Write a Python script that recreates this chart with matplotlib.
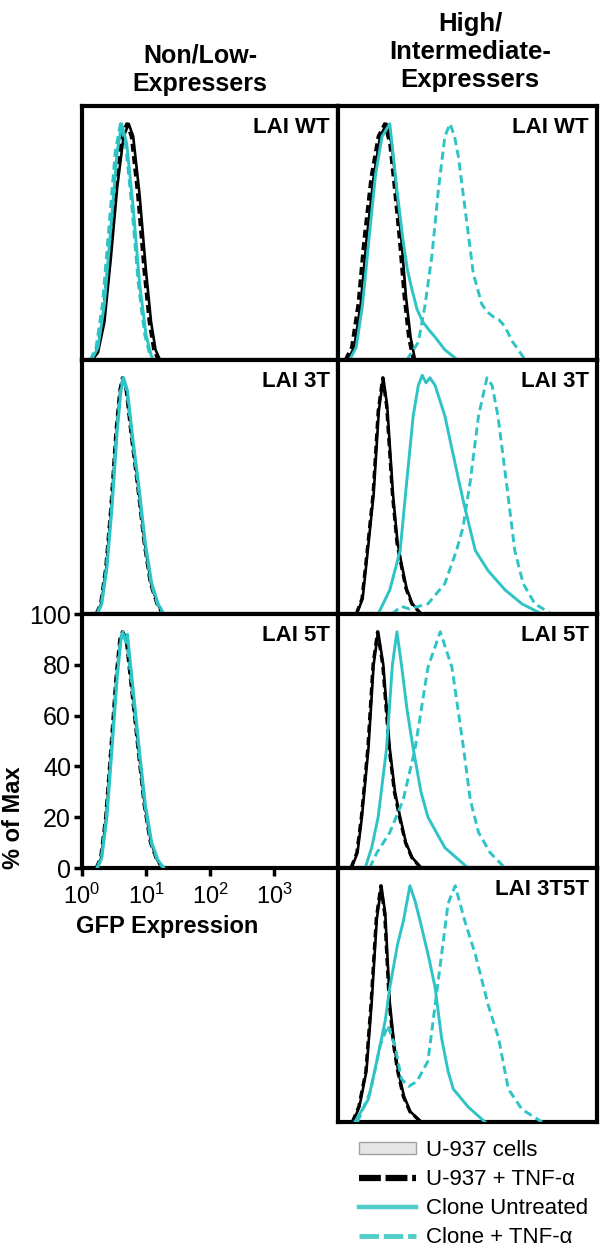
import numpy as np
import matplotlib
matplotlib.use('Agg')
import matplotlib.pyplot as plt
from matplotlib.lines import Line2D
from matplotlib.patches import Patch

plt.rcParams['font.family'] = ['Liberation Sans', 'DejaVu Sans']
plt.rcParams['mathtext.fontset'] = 'custom'
plt.rcParams['mathtext.rm'] = 'Liberation Sans'
plt.rcParams['mathtext.it'] = 'Liberation Sans'

CYAN = '#2ec4c6'

# ---- data: GFP intensity (x) and % of max (y) ----
# Non/Low expressers, LAI WT
low_wt_u937_x = [1.45, 1.78, 2.24, 2.82, 3.55, 4.47, 5.37, 6.31, 7.94, 10.0, 12.0, 14.1, 16.6]
low_wt_u937_y = [0, 3, 15, 40, 68, 88, 93, 88, 65, 35, 15, 4, 0]
low_wt_u937tnf_x = [1.35, 1.66, 2.09, 2.63, 3.31, 4.17, 5.01, 5.89, 7.41, 9.33, 11.2, 13.2, 15.5]
low_wt_u937tnf_y = [0, 3, 15, 40, 68, 88, 93, 88, 65, 35, 15, 4, 0]
low_wt_clone_x = [1.41, 1.78, 2.24, 2.82, 3.55, 4.17, 5.01, 6.31, 7.94, 10.0, 12.0, 13.2]
low_wt_clone_y = [0, 5, 22, 52, 82, 93, 85, 60, 30, 10, 2, 0]
low_wt_clonetnf_x = [1.35, 1.66, 2.09, 2.63, 3.31, 3.98, 4.79, 6.03, 7.59, 9.55, 11.5, 12.6]
low_wt_clonetnf_y = [0, 5, 22, 52, 82, 93, 85, 60, 30, 10, 2, 0]

# Non/Low expressers, LAI 3T
low_3t_u937_x = [1.70, 2.0, 2.40, 2.88, 3.47, 3.98, 4.37, 5.01, 6.03, 7.59, 9.55, 12.0, 15.1, 18.6]
low_3t_u937_y = [0, 4, 18, 42, 72, 88, 93, 88, 70, 50, 28, 12, 4, 0]
low_3t_u937tnf_x = [1.66, 1.95, 2.34, 2.82, 3.39, 3.89, 4.27, 4.90, 5.89, 7.41, 9.33, 11.7, 14.8, 18.2]
low_3t_u937tnf_y = [0, 4, 18, 42, 72, 88, 93, 88, 70, 50, 28, 12, 4, 0]
low_3t_clone_x = [1.74, 2.04, 2.45, 2.95, 3.55, 4.07, 4.47, 5.13, 6.17, 7.76, 9.77, 12.3, 15.5, 19.1]
low_3t_clone_y = [0, 4, 18, 42, 72, 88, 93, 88, 70, 50, 28, 12, 4, 0]
low_3t_clonetnf_x = [1.70, 2.0, 2.40, 2.88, 3.47, 3.98, 4.37, 5.01, 6.03, 7.59, 9.55, 12.0, 15.1, 18.6]
low_3t_clonetnf_y = [0, 4, 18, 42, 72, 88, 93, 88, 70, 50, 28, 12, 4, 0]

# Non/Low expressers, LAI 5T
low_5t_u937_x = [1.70, 2.0, 2.40, 2.88, 3.47, 3.98, 4.37, 5.01, 5.62, 6.61, 7.59, 9.55, 12.0, 15.1, 18.6]
low_5t_u937_y = [0, 4, 20, 47, 75, 90, 93, 90, 78, 62, 48, 25, 10, 3, 0]
low_5t_u937tnf_x = [1.66, 1.95, 2.34, 2.82, 3.39, 3.89, 4.27, 4.90, 5.50, 6.46, 7.41, 9.33, 11.7, 14.8, 18.2]
low_5t_u937tnf_y = [0, 4, 20, 47, 75, 90, 93, 90, 78, 62, 48, 25, 10, 3, 0]
low_5t_clone_x = [1.74, 2.04, 2.45, 2.95, 3.55, 4.07, 4.47, 4.79, 5.13, 5.75, 6.76, 7.76, 9.77, 12.3, 15.5, 19.1]
low_5t_clone_y = [0, 4, 20, 47, 75, 90, 92, 89, 92, 80, 63, 48, 25, 10, 3, 0]
low_5t_clonetnf_x = [1.70, 2.0, 2.40, 2.88, 3.47, 3.98, 4.37, 5.01, 5.62, 6.61, 7.59, 9.55, 12.0, 15.1, 18.6]
low_5t_clonetnf_y = [0, 4, 20, 47, 75, 90, 93, 90, 78, 62, 48, 25, 10, 3, 0]

# High/Intermediate expressers, LAI WT
high_wt_u937_x = [1.41, 1.78, 2.24, 2.75, 3.55, 4.47, 5.62, 6.76, 7.94, 9.55, 11.2, 13.2, 15.5]
high_wt_u937_y = [0, 5, 22, 47, 72, 88, 93, 85, 68, 47, 25, 9, 0]
high_wt_u937tnf_x = [1.29, 1.62, 2.04, 2.51, 3.24, 4.17, 5.25, 6.31, 7.41, 8.91, 10.5, 12.3, 14.5]
high_wt_u937tnf_y = [0, 5, 22, 47, 72, 88, 93, 85, 68, 47, 25, 9, 0]
high_wt_clone_x = [1.51, 1.91, 2.40, 3.02, 3.80, 4.79, 6.31, 8.13, 10.0, 11.7, 13.8, 16.6, 20.4, 25.1, 31.6, 44.7, 70.8]
high_wt_clone_y = [0, 5, 22, 48, 73, 88, 93, 67, 48, 36, 28, 20, 15, 12, 9, 4, 0]
high_wt_clonetnf_x = [11.5, 17.4, 21.9, 28.2, 35.5, 44.7, 53.7, 63.1, 72.4, 97.7, 123, 166, 200,
                      251, 302, 355, 417, 501, 575, 776]
high_wt_clonetnf_y = [0, 7, 21, 41, 67, 88, 93, 88, 80, 54, 34, 22, 19, 17, 16, 14, 11, 7, 5, 0]

# High/Intermediate expressers, LAI 3T
high_3t_u937_x = [1.95, 2.40, 2.75, 3.55, 4.27, 5.01, 5.75, 7.08, 8.32, 9.55, 11.5, 14.1, 19.5]
high_3t_u937_y = [0, 6, 20, 47, 80, 93, 82, 47, 28, 20, 10, 4, 0]
high_3t_u937tnf_x = [1.91, 2.34, 2.69, 3.47, 4.17, 4.90, 5.62, 6.92, 8.13, 9.33, 11.2, 13.8, 19.1]
high_3t_u937tnf_y = [0, 6, 20, 47, 80, 93, 82, 47, 28, 20, 10, 4, 0]
high_3t_clone_x = [4.17, 6.31, 9.12, 11.5, 14.5, 17.4, 20.0, 22.9, 26.3, 31.6, 44.7, 57.5, 85.1,
                   132, 209, 380, 692, 1413]
high_3t_clone_y = [0, 9.5, 25, 52, 78, 90, 94, 91, 93, 90, 78, 65, 45, 25, 17, 9.5, 4, 0]
high_3t_clonetnf_x = [6.76, 9.55, 12.6, 24.5, 44.7, 67.6, 85.1, 110, 148, 200, 240, 295, 398, 537,
                      724, 1096, 1995]
high_3t_clonetnf_y = [0, 3, 2, 4, 12, 25, 34, 52, 78, 93, 90, 78, 52, 25, 12, 4, 0]

# High/Intermediate expressers, LAI 5T
high_5t_u937_x = [1.62, 2.0, 2.34, 2.95, 3.55, 4.17, 5.01, 6.31, 7.59, 9.12, 11.2, 14.1, 19.5]
high_5t_u937_y = [0, 6, 20, 47, 80, 93, 80, 47, 30, 20, 10, 4, 0]
high_5t_u937tnf_x = [1.58, 1.95, 2.29, 2.88, 3.47, 4.07, 4.90, 6.17, 7.41, 8.91, 11.0, 13.8, 19.1]
high_5t_u937tnf_y = [0, 6, 20, 47, 80, 93, 80, 47, 30, 20, 10, 4, 0]
high_5t_clone_x = [2.63, 3.31, 4.17, 5.62, 6.92, 8.13, 9.55, 11.7, 14.5, 19.1, 24.5, 44.7, 102]
high_5t_clone_y = [0, 8, 20, 47, 80, 93, 80, 62, 47, 30, 20, 8, 0]
high_5t_clonetnf_x = [3.09, 3.98, 6.31, 10.2, 15.5, 24.5, 38.0, 57.5, 87.1, 110, 148, 224, 380]
high_5t_clonetnf_y = [0, 6, 14, 27, 47, 79, 93, 79, 47, 27, 14, 6, 0]

# High/Intermediate expressers, LAI 3T5T
high_3t5t_u937_x = [1.70, 2.14, 2.75, 3.31, 3.98, 4.68, 5.37, 6.31, 7.41, 8.51, 10.5, 13.2, 19.5]
high_3t5t_u937_y = [0, 6, 20, 47, 80, 93, 82, 47, 30, 20, 10, 4, 0]
high_3t5t_u937tnf_x = [1.66, 2.09, 2.69, 3.24, 3.89, 4.57, 5.25, 6.17, 7.24, 8.32, 10.2, 12.9, 19.1]
high_3t5t_u937tnf_y = [0, 6, 20, 47, 80, 93, 82, 47, 30, 20, 10, 4, 0]
high_3t5t_clone_x = [1.82, 2.95, 3.98, 5.37, 6.31, 8.32, 10.2, 12.9, 15.5, 18.6, 25.1, 31.6, 39.8,
                     50.1, 60.3, 102, 186]
high_3t5t_clone_y = [0, 9, 24, 40, 53, 70, 79, 93, 87, 79, 65, 53, 33, 20, 13, 6, 0]
high_3t5t_clonetnf_x = [2.0, 3.16, 4.47, 5.89, 7.59, 9.55, 12.3, 16.6, 24.5, 31.6, 39.8, 50.1, 64.6,
                        91.2, 132, 209, 302, 427, 692, 1413]
high_3t5t_clonetnf_y = [0, 12, 30, 38, 30, 17, 14, 16, 24, 46, 66, 86, 93, 79, 66, 46, 33, 13, 5, 0]

panels = [
    # (pixel box left, top, right, bottom), label, curves
    ((82, 106, 338, 360), 'LAI WT', (low_wt_u937_x, low_wt_u937_y, low_wt_u937tnf_x, low_wt_u937tnf_y,
                                     low_wt_clone_x, low_wt_clone_y, low_wt_clonetnf_x, low_wt_clonetnf_y)),
    ((82, 360, 338, 614), 'LAI 3T', (low_3t_u937_x, low_3t_u937_y, low_3t_u937tnf_x, low_3t_u937tnf_y,
                                     low_3t_clone_x, low_3t_clone_y, low_3t_clonetnf_x, low_3t_clonetnf_y)),
    ((82, 614, 338, 868), 'LAI 5T', (low_5t_u937_x, low_5t_u937_y, low_5t_u937tnf_x, low_5t_u937tnf_y,
                                     low_5t_clone_x, low_5t_clone_y, low_5t_clonetnf_x, low_5t_clonetnf_y)),
    ((338, 106, 597, 360), 'LAI WT', (high_wt_u937_x, high_wt_u937_y, high_wt_u937tnf_x, high_wt_u937tnf_y,
                                      high_wt_clone_x, high_wt_clone_y, high_wt_clonetnf_x, high_wt_clonetnf_y)),
    ((338, 360, 597, 614), 'LAI 3T', (high_3t_u937_x, high_3t_u937_y, high_3t_u937tnf_x, high_3t_u937tnf_y,
                                      high_3t_clone_x, high_3t_clone_y, high_3t_clonetnf_x, high_3t_clonetnf_y)),
    ((338, 614, 597, 868), 'LAI 5T', (high_5t_u937_x, high_5t_u937_y, high_5t_u937tnf_x, high_5t_u937tnf_y,
                                      high_5t_clone_x, high_5t_clone_y, high_5t_clonetnf_x, high_5t_clonetnf_y)),
    ((338, 868, 597, 1122), 'LAI 3T5T', (high_3t5t_u937_x, high_3t5t_u937_y, high_3t5t_u937tnf_x, high_3t5t_u937tnf_y,
                                         high_3t5t_clone_x, high_3t5t_clone_y, high_3t5t_clonetnf_x, high_3t5t_clonetnf_y)),
]

W, H = 600, 1248
fig = plt.figure(figsize=(W / 100, H / 100), dpi=100)

for i, (box, label, c) in enumerate(panels):
    x0, y0, x1, y1 = box
    ax = fig.add_axes([x0 / W, 1 - y1 / H, (x1 - x0) / W, (y1 - y0) / H])
    ax.plot(c[0], c[1], color='black', lw=1.9, zorder=3)
    ax.plot(c[2], c[3], color='black', lw=2.3, dashes=(2.5, 1.4), zorder=4)
    ax.plot(c[4], c[5], color=CYAN, lw=2.1, zorder=5)
    ax.plot(c[6], c[7], color=CYAN, lw=2.1, dashes=(2.8, 1.6), zorder=6)
    ax.set_xscale('log')
    ax.set_xlim(1, 1e4)
    ax.set_ylim(0, 100)
    for s in ax.spines.values():
        s.set_linewidth(3)
    ax.text(0.968, 0.958, label, transform=ax.transAxes, ha='right', va='top',
            fontsize=16, fontweight='bold')
    ax.minorticks_off()
    if i == 2:
        ax.set_xticks([1, 10, 100, 1000])
        ax.set_xticklabels(['$10^{0}$', '$10^{1}$', '$10^{2}$', '$10^{3}$'], fontsize=17)
        ax.set_yticks([0, 20, 40, 60, 80, 100])
        ax.set_yticklabels(['0', '20', '40', '60', '80', '100'], fontsize=18)
        ax.tick_params(length=6, width=2.5, pad=2)
        ax.tick_params(axis='x', pad=5)
    else:
        ax.set_xticks([])
        ax.set_yticks([])

fig.text(200 / W, 1 - 70 / H, 'Non/Low-\nExpressers', ha='center', va='center',
         fontsize=18, fontweight='bold', linespacing=1.25)
fig.text(470 / W, 1 - 52 / H, 'High/\nIntermediate-\nExpressers', ha='center', va='center',
         fontsize=18.5, fontweight='bold', linespacing=1.22)
fig.text(167 / W, 1 - 927 / H, 'GFP Expression', ha='center', va='center',
         fontsize=17, fontweight='bold')
fig.text(14 / W, 1 - 818 / H, '% of Max', ha='center', va='center', rotation=90,
         fontsize=17, fontweight='bold')

LEG_CYAN = '#50cdc8'
handles = [
    Patch(facecolor='#e6e6e6', edgecolor='#a0a0a0', lw=1),
    Line2D([], [], color='black', lw=4.5, dashes=(3.5, 0.75)),
    Line2D([], [], color=LEG_CYAN, lw=3.2),
    Line2D([], [], color=LEG_CYAN, lw=3.5, dashes=(4.0, 1.0)),
]
labels = ['U-937 cells', 'U-937 + TNF-α', 'Clone Untreated', 'Clone + TNF-α']
fig.legend(handles, labels, loc='upper left', bbox_to_anchor=(359 / W, 1 - 1140 / H),
           frameon=False, fontsize=16, handlelength=2.55, handleheight=0.5,
           handletextpad=0.45, labelspacing=0.36, borderpad=0, borderaxespad=0)

fig.savefig('out.png', dpi=100)
